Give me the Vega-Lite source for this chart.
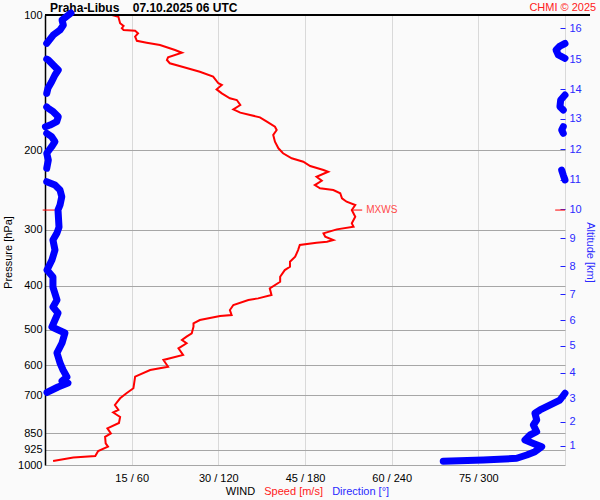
{
  "$schema": "https://vega.github.io/schema/vega-lite/v6.json",
  "width": 520,
  "height": 450,
  "autosize": "none",
  "padding": {"left": 45, "top": 15, "right": 35, "bottom": 35},
  "background": "#fafafa",
  "config": {"view": {"stroke": null}, "font": "Liberation Sans"},
  "resolve": {"scale": {"x": "independent"}, "axis": {"x": "independent", "y": "independent"}},
  "layer": [
    {
      "layer": [
        {
          "data": {"values": [
            {"s":11.6,"p":100},{"s":12.7,"p":100.9},{"s":13.0,"p":104.3},{"s":13.6,"p":105.8},{"s":13.3,"p":107.0},{"s":13.6,"p":108.0},{"s":15.6,"p":108.4},{"s":16.1,"p":109.8},{"s":15.6,"p":111.7},{"s":15.9,"p":114.1},{"s":17.6,"p":115.2},{"s":19.9,"p":116.6},{"s":22.5,"p":119.6},{"s":23.7,"p":121.3},{"s":21.3,"p":124.2},{"s":21.1,"p":125.9},{"s":21.6,"p":128.0},{"s":23.9,"p":130.5},{"s":26.8,"p":133.7},{"s":29.1,"p":137.1},{"s":30.0,"p":141.8},{"s":30.6,"p":143.0},{"s":29.7,"p":146.3},{"s":30.6,"p":149.3},{"s":32.0,"p":153.1},{"s":33.2,"p":154.5},{"s":33.8,"p":158.5},{"s":32.6,"p":162.0},{"s":33.8,"p":164.8},{"s":35.5,"p":166.8},{"s":37.2,"p":168.8},{"s":38.4,"p":172.6},{"s":39.8,"p":177.1},{"s":40.1,"p":180.1},{"s":39.5,"p":184.8},{"s":39.8,"p":191.2},{"s":40.4,"p":197.8},{"s":41.2,"p":202.9},{"s":42.7,"p":208.2},{"s":44.7,"p":211.8},{"s":45.9,"p":216.6},{"s":48.2,"p":221.1},{"s":49.0,"p":223.0},{"s":47.0,"p":228.8},{"s":47.9,"p":233.5},{"s":46.7,"p":238.7},{"s":47.6,"p":242.8},{"s":49.9,"p":244.9},{"s":51.1,"p":249.0},{"s":51.4,"p":255.5},{"s":52.2,"p":260.0},{"s":53.7,"p":264.4},{"s":53.1,"p":271.3},{"s":53.7,"p":280.7},{"s":53.1,"p":290.4},{"s":53.4,"p":295.5},{"s":50.5,"p":299.5},{"s":48.2,"p":305.6},{"s":48.5,"p":311.0},{"s":49.9,"p":316.2},{"s":48.8,"p":319.0},{"s":47.0,"p":320.6},{"s":44.1,"p":324.4},{"s":43.8,"p":332.9},{"s":43.3,"p":344.5},{"s":42.4,"p":353.4},{"s":42.4,"p":362.6},{"s":41.5,"p":368.8},{"s":40.7,"p":381.6},{"s":40.7,"p":391.5},{"s":38.9,"p":405.0},{"s":39.2,"p":419.1},{"s":36.9,"p":426.3},{"s":35.2,"p":429.9},{"s":32.6,"p":441.1},{"s":32.0,"p":452.5},{"s":32.3,"p":464.2},{"s":30.3,"p":466.6},{"s":26.8,"p":476.2},{"s":25.7,"p":484.3},{"s":25.7,"p":492.8},{"s":25.4,"p":509.7},{"s":24.5,"p":518.6},{"s":23.7,"p":527.5},{"s":24.5,"p":536.5},{"s":23.1,"p":550.4},{"s":23.9,"p":569.4},{"s":20.5,"p":584.3},{"s":21.3,"p":604.7},{"s":18.2,"p":615.0},{"s":15.6,"p":636.5},{"s":15.3,"p":675.3},{"s":14.1,"p":692.8},{"s":13.0,"p":710.9},{"s":12.1,"p":735.6},{"s":12.7,"p":754.6},{"s":11.8,"p":764.4},{"s":13.0,"p":782.3},{"s":12.8,"p":806.6},{"s":10.8,"p":828.9},{"s":11.4,"p":850.6},{"s":10.4,"p":865.6},{"s":10.5,"p":895.3},{"s":10.9,"p":910.1},{"s":9.2,"p":931.1},{"s":8.7,"p":955.0},{"s":4.9,"p":962.4},{"s":1.4,"p":979.7}
          ]},
          "mark": {"type": "line", "color": "#ff0000", "strokeWidth": 2},
          "encoding": {
            "x": {"field": "s", "type": "quantitative", "scale": {"domain": [0, 90], "nice": false, "zero": false},
              "axis": {"orient": "bottom", "values": [15, 30, 45, 60, 75, 90], "labelExpr": "datum.value == 90 ? '' : datum.value + ' / ' + datum.value * 4", "domain": false, "ticks": false, "grid": true, "gridColor": "#d9d9d9", "gridWidth": 1, "labelFontSize": 11, "labelColor": "#000000", "labelPadding": 7, "labelFont": "Liberation Sans", "title": null}},
            "y": {"field": "p", "type": "quantitative", "scale": {"type": "log", "domain": [100, 1000], "reverse": true, "nice": false},
              "axis": {"orient": "left", "values": [100, 200, 300, 400, 500, 600, 700, 850, 925, 1000], "format": "d", "grid": true, "gridColor": "#a6a6a6", "gridWidth": 1, "ticks": false, "domain": true, "domainColor": "#000000", "domainWidth": 1.5, "labelFontSize": 11, "labelColor": "#000000", "labelFont": "Liberation Sans", "labelPadding": 3, "labelOverlap": false, "title": "Pressure [hPa]", "titleFont": "Liberation Sans", "titleFontSize": 11, "titleFontWeight": "normal", "titleColor": "#000000", "titlePadding": 4, "titleY": 237}},
            "order": {"value": null}
          }
        },
        {
          "data": {"values": [{}]},
          "mark": {"type": "rule", "color": "#000000", "strokeWidth": 2},
          "encoding": {"x": {"datum": 0}, "x2": {"datum": 94.33}, "y": {"datum": 100}}
        },
        {
          "data": {"values": [{}]},
          "mark": {"type": "rule", "color": "#ff0000", "strokeWidth": 1},
          "encoding": {"x": {"datum": -0.4}, "x2": {"datum": 1.7}, "y": {"datum": 271.3}}
        },
        {
          "data": {"values": [{}]},
          "mark": {"type": "rule", "color": "#ff0000", "strokeWidth": 1},
          "encoding": {"x": {"datum": 53.0}, "x2": {"datum": 54.9}, "y": {"datum": 271.3}}
        },
        {
          "data": {"values": [{}]},
          "mark": {"type": "rule", "color": "#ff0000", "strokeWidth": 1},
          "encoding": {"x": {"datum": 88.3}, "x2": {"datum": 90}, "y": {"datum": 271.3}}
        },
        {
          "data": {"values": [{}]},
          "mark": {"type": "text", "text": "MXWS", "align": "left", "baseline": "middle", "fontSize": 10, "color": "#ff4a4a", "font": "Liberation Sans"},
          "encoding": {"x": {"datum": 55.6}, "y": {"datum": 271.3}}
        },
        {
          "data": {"values": [{}]},
          "mark": {"type": "text", "text": "Praha-Libus\u00a0\u00a0\u00a0\u00a007.10.2025 06 UTC", "align": "left", "baseline": "alphabetic", "fontSize": 12, "fontWeight": "bold", "color": "#000000", "font": "Liberation Sans"},
          "encoding": {"x": {"datum": 0.87}, "y": {"datum": 98.5}}
        },
        {
          "data": {"values": [{}]},
          "mark": {"type": "text", "text": "CHMI \u00a9 2025", "align": "right", "baseline": "alphabetic", "fontSize": 11, "color": "#ff2020", "font": "Liberation Sans"},
          "encoding": {"x": {"datum": 95.4}, "y": {"datum": 98.0}}
        },
        {
          "data": {"values": [{}]},
          "mark": {"type": "text", "text": "WIND", "align": "left", "baseline": "alphabetic", "fontSize": 11, "color": "#000000", "font": "Liberation Sans"},
          "encoding": {"x": {"datum": 31.3}, "y": {"datum": 1163}}
        },
        {
          "data": {"values": [{}]},
          "mark": {"type": "text", "text": "Speed [m/s]", "align": "left", "baseline": "alphabetic", "fontSize": 11, "color": "#ff2020", "font": "Liberation Sans"},
          "encoding": {"x": {"datum": 37.95}, "y": {"datum": 1163}}
        },
        {
          "data": {"values": [{}]},
          "mark": {"type": "text", "text": "Direction [\u00b0]", "align": "left", "baseline": "alphabetic", "fontSize": 11, "color": "#2a2aff", "font": "Liberation Sans"},
          "encoding": {"x": {"datum": 49.7}, "y": {"datum": 1163}}
        }
      ]
    },
    {
      "data": {"values": [
        {"d":18.0,"p":99,"g":1},{"d":11.8,"p":102.6,"g":1},{"d":12.7,"p":105.3,"g":1},{"d":10.4,"p":108.0,"g":1},{"d":5.7,"p":110.8,"g":1},{"d":1.2,"p":115.6,"g":1},
        {"d":360,"p":115.7,"g":2},{"d":356.5,"p":117.2,"g":2},{"d":353.8,"p":119.6,"g":2},{"d":355.4,"p":122.7,"g":2},{"d":360,"p":124.8,"g":2},
        {"d":1.2,"p":125.3,"g":3},{"d":2.3,"p":125.9,"g":3},{"d":6.9,"p":130.3,"g":3},{"d":9.2,"p":132.5,"g":3},{"d":6.9,"p":135.9,"g":3},{"d":4.6,"p":140.7,"g":3},{"d":2.1,"p":145.3,"g":3},{"d":1.2,"p":149.3,"g":3},
        {"d":360,"p":150.6,"g":4},{"d":357,"p":154.5,"g":4},{"d":356.5,"p":159.9,"g":4},{"d":358.8,"p":162.6,"g":4},
        {"d":1.2,"p":160.1,"g":5},{"d":2.3,"p":161.2,"g":5},{"d":5.7,"p":164.0,"g":5},{"d":9.2,"p":168.3,"g":5},{"d":8.1,"p":172.6,"g":5},{"d":3.5,"p":175.6,"g":5},{"d":0.3,"p":177.1,"g":5},
        {"d":358.8,"p":177.1,"g":6},{"d":357.7,"p":180.1,"g":6},{"d":358.8,"p":183.2,"g":6},
        {"d":1.2,"p":183.2,"g":7},{"d":4.6,"p":186.4,"g":7},{"d":6.9,"p":191.2,"g":7},{"d":4.6,"p":196.2,"g":7},{"d":1.2,"p":202.9,"g":7},{"d":2.3,"p":210.1,"g":7},{"d":1.2,"p":219.1,"g":7},
        {"d":357.7,"p":221.1,"g":8},{"d":358.8,"p":226.8,"g":8},{"d":360,"p":232.6,"g":8},
        {"d":1.2,"p":234.6,"g":9},{"d":6.9,"p":238.7,"g":9},{"d":10.4,"p":244.9,"g":9},{"d":11.6,"p":253.4,"g":9},{"d":10.4,"p":264.4,"g":9},{"d":9.0,"p":271.3,"g":9},{"d":9.7,"p":295.9,"g":9},{"d":8.3,"p":305.1,"g":9},{"d":5.5,"p":316.2,"g":9},{"d":6.9,"p":332.9,"g":9},{"d":4.8,"p":350.4,"g":9},{"d":1.4,"p":368.8,"g":9},{"d":5.5,"p":382.2,"g":9},{"d":5.5,"p":402.4,"g":9},{"d":8.3,"p":429.9,"g":9},{"d":5.5,"p":445.6,"g":9},{"d":9.0,"p":459.5,"g":9},{"d":6.9,"p":476.2,"g":9},{"d":4.8,"p":493.5,"g":9},{"d":13.8,"p":508.9,"g":9},{"d":11.8,"p":535.6,"g":9},{"d":8.3,"p":563.6,"g":9},{"d":10.4,"p":593.4,"g":9},{"d":12.5,"p":615.0,"g":9},{"d":15.2,"p":637.5,"g":9},{"d":11.8,"p":650.7,"g":9},{"d":15.9,"p":657.4,"g":9},{"d":9.0,"p":670.9,"g":9},{"d":1.4,"p":690.0,"g":9},
        {"d":360,"p":692.8,"g":10},{"d":356.5,"p":717.1,"g":10},{"d":351.9,"p":729.4,"g":10},{"d":342.7,"p":754.6,"g":10},{"d":339.2,"p":767.4,"g":10},{"d":340.4,"p":794.3,"g":10},{"d":338.1,"p":814.9,"g":10},{"d":340.4,"p":843.4,"g":10},{"d":335.8,"p":857.7,"g":10},{"d":332.3,"p":880.0,"g":10},{"d":338.1,"p":895.3,"g":10},{"d":343.9,"p":910.9,"g":10},{"d":339.2,"p":934.1,"g":10},{"d":333.5,"p":950.2,"g":10},{"d":326.6,"p":966.3,"g":10},{"d":303.4,"p":974.8,"g":10},{"d":275.7,"p":981.0,"g":10}
      ]},
      "mark": {"type": "line", "color": "#0000ff", "strokeWidth": 7, "strokeCap": "round", "strokeJoin": "round"},
      "encoding": {
        "x": {"field": "d", "type": "quantitative", "scale": {"domain": [0, 360], "nice": false, "zero": false}, "axis": null},
        "y": {"field": "p", "type": "quantitative",
          "axis": {"orient": "right", "values": [107, 125.3, 146.3, 170.2, 198.8, 232.6, 270.3, 313.5, 361.3, 416.9, 476.2, 543.9, 623.6, 709.8, 801.4, 906.1], "labelExpr": "'' + (16 - indexof([107, 125.3, 146.3, 170.2, 198.8, 232.6, 270.3, 313.5, 361.3, 416.9, 476.2, 543.9, 623.6, 709.8, 801.4, 906.1], datum.value))", "offset": -5, "domain": false, "grid": false, "ticks": true, "tickColor": "#2020ff", "tickSize": 5, "tickWidth": 1, "labelColor": "#2a2aff", "labelFontSize": 11, "labelFont": "Liberation Sans", "labelPadding": 4, "labelOverlap": false, "title": "Altitude [km]", "titleFont": "Liberation Sans", "titleColor": "#2a2aff", "titleFontSize": 11, "titleFontWeight": "normal", "titlePadding": 3, "titleY": 237}},
        "detail": {"field": "g", "type": "nominal"},
        "order": {"value": null}
      }
    }
  ]
}
